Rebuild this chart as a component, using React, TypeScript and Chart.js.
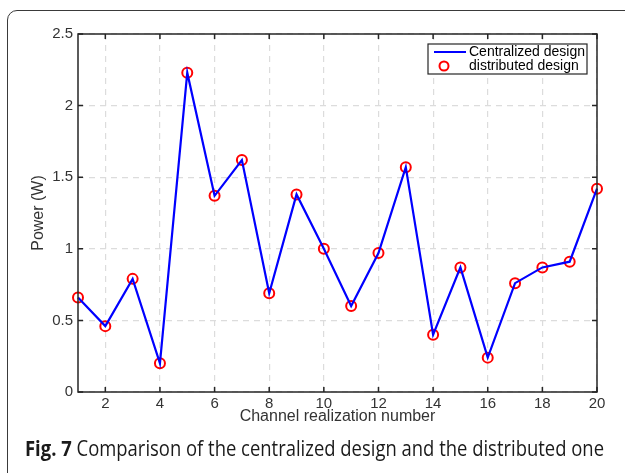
import React, { useEffect, useRef } from "react";
import { Chart, registerables } from "chart.js";

Chart.register(...registerables);

const channels = [1, 2, 3, 4, 5, 6, 7, 8, 9, 10, 11, 12, 13, 14, 15, 16, 17, 18, 19, 20];
const centralized = [0.66, 0.46, 0.79, 0.2, 2.23, 1.37, 1.62, 0.69, 1.38, 1.0, 0.6, 0.97, 1.57, 0.4, 0.87, 0.24, 0.76, 0.87, 0.91, 1.42];
const distributed = [0.66, 0.46, 0.79, 0.2, 2.23, 1.37, 1.62, 0.69, 1.38, 1.0, 0.6, 0.97, 1.57, 0.4, 0.87, 0.24, 0.76, 0.87, 0.91, 1.42];
const xTicks = [2, 4, 6, 8, 10, 12, 14, 16, 18, 20];
const yTicks = [0, 0.5, 1, 1.5, 2, 2.5];
const seriesLabels = ["Centralized design", "distributed design"];

const FONT = "'Liberation Sans', Arial, sans-serif";
const TEXT = "#333333";

const boxPlugin = {
  id: "boxTicksLegend",
  afterDatasetsDraw(chart: any) {
    const { ctx, chartArea: a, scales } = chart;
    ctx.save();
    ctx.strokeStyle = "#262626";
    ctx.lineWidth = 1.5;
    const tl = 5;
    ctx.beginPath();
    xTicks.forEach((t) => {
      const x = scales.x.getPixelForValue(t);
      ctx.moveTo(x, a.bottom);
      ctx.lineTo(x, a.bottom - tl);
      ctx.moveTo(x, a.top);
      ctx.lineTo(x, a.top + tl);
    });
    yTicks.forEach((t) => {
      const y = scales.y.getPixelForValue(t);
      ctx.moveTo(a.left, y);
      ctx.lineTo(a.left + tl, y);
      ctx.moveTo(a.right, y);
      ctx.lineTo(a.right - tl, y);
    });
    ctx.stroke();
    ctx.strokeRect(a.left, a.top, a.right - a.left, a.bottom - a.top);

    // legend
    const lx = 428, ly = 44, lw = 159, lh = 30;
    ctx.fillStyle = "#ffffff";
    ctx.fillRect(lx, ly, lw, lh);
    ctx.lineWidth = 1.2;
    ctx.strokeStyle = "#262626";
    ctx.strokeRect(lx, ly, lw, lh);
    const ds = chart.data.datasets;
    ctx.strokeStyle = ds[0].borderColor;
    ctx.lineWidth = 2;
    ctx.beginPath();
    ctx.moveTo(434, 52);
    ctx.lineTo(466, 52);
    ctx.stroke();
    ctx.strokeStyle = ds[1].pointBorderColor;
    ctx.beginPath();
    ctx.arc(444, 66, 4.5, 0, Math.PI * 2);
    ctx.stroke();
    ctx.fillStyle = "#000";
    ctx.font = `14px ${FONT}`;
    ctx.textBaseline = "middle";
    ctx.textAlign = "left";
    ctx.fillText(ds[0].label, 469, 52);
    ctx.fillText(ds[1].label, 469, 66);
    ctx.restore();
  },
};

export default function App() {
  const ref = useRef<HTMLCanvasElement>(null);
  useEffect(() => {
    const chart = new Chart(ref.current!, {
      type: "line",
      data: {
        datasets: [
          {
            label: seriesLabels[0],
            data: channels.map((c, i) => ({ x: c, y: centralized[i] })),
            borderColor: "#0000ff",
            borderWidth: 2.2,
            pointRadius: 0,
            fill: false,
            tension: 0,
            clip: false,
          },
          {
            label: seriesLabels[1],
            data: channels.map((c, i) => ({ x: c, y: distributed[i] })),
            showLine: false,
            borderColor: "#ff0000",
            pointBorderColor: "#ff0000",
            pointBackgroundColor: "rgba(0,0,0,0)",
            pointRadius: 5,
            pointBorderWidth: 2,
            clip: false,
          },
        ],
      },
      options: {
        animation: false,
        responsive: false,
        layout: { padding: { left: 25, right: 28, top: 34, bottom: 43 } },
        plugins: { legend: { display: false }, tooltip: { enabled: false } },
        scales: {
          x: {
            type: "linear",
            min: 1,
            max: 20,
            afterBuildTicks: (s: any) => {
              s.ticks = xTicks.map((v) => ({ value: v }));
            },
            afterFit: (s: any) => {
              s.height = 38;
            },
            grid: { color: "#dcdcdc", lineWidth: 1.2, drawTicks: false },
            border: { display: false, dash: [6, 5] },
            ticks: {
              color: TEXT,
              font: { family: FONT, size: 15 },
              padding: 3,
              maxRotation: 0,
              callback: (v: any) => String(v),
            },
            title: {
              display: true,
              text: "Channel realization number",
              color: TEXT,
              font: { family: FONT, size: 16 },
              padding: { top: 0, bottom: 4 },
            },
          },
          y: {
            type: "linear",
            min: 0,
            max: 2.5,
            afterBuildTicks: (s: any) => {
              s.ticks = yTicks.map((v) => ({ value: v }));
            },
            afterFit: (s: any) => {
              s.width = 53;
            },
            grid: { color: "#dcdcdc", lineWidth: 1.2, drawTicks: false },
            border: { display: false, dash: [6, 5] },
            ticks: {
              color: TEXT,
              font: { family: FONT, size: 15 },
              padding: 5,
              callback: (v: any) => String(v),
            },
            title: {
              display: true,
              text: "Power (W)",
              color: TEXT,
              font: { family: FONT, size: 16 },
              padding: { top: 4, bottom: 0 },
            },
          },
        },
      },
      plugins: [boxPlugin],
    } as any);
    return () => chart.destroy();
  }, []);

  return (
    <div style={{ position: "absolute", left: 0, top: 0, width: 625, height: 473, overflow: "hidden", background: "#fff" }}>
      <div
        style={{
          position: "absolute",
          left: 7,
          top: 10,
          width: 700,
          height: 600,
          border: "1.5px solid #3a3a3a",
          borderRadius: 10,
          boxSizing: "border-box",
        }}
      />
      <canvas ref={ref} width={625} height={473} style={{ position: "absolute", left: 0, top: 0 }} />
      <div
        style={{
          position: "absolute",
          left: 25,
          top: 434,
          whiteSpace: "nowrap",
          fontFamily: "'Open Sans', 'Noto Sans', sans-serif",
          fontSize: 21,
          color: "#1a1a1a",
          transform: "scaleX(0.878)",
          transformOrigin: "left top",
        }}
      >
        <b>Fig. 7</b> Comparison of the centralized design and the distributed one
      </div>
    </div>
  );
}
